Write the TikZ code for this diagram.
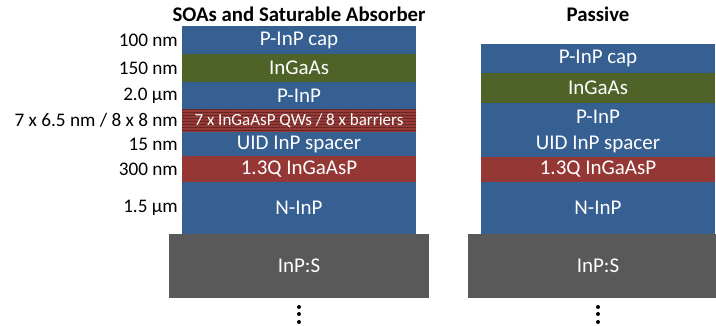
\documentclass[tikz,border=0pt]{standalone}
\usepackage{fontspec}
\setmainfont{Carlito}
\usetikzlibrary{positioning,patterns.meta}

\definecolor{inpblue}{RGB}{55,96,146}
\definecolor{ingaasgreen}{RGB}{79,98,40}
\definecolor{quatred}{RGB}{149,55,53}
\definecolor{qwred}{RGB}{150,58,56}
\definecolor{qwdark}{RGB}{100,36,34}
\definecolor{subgray}{RGB}{89,89,89}

\begin{document}
\begin{tikzpicture}[x=1pt, y=-1pt, node distance=0pt]

            \path [use as bounding box, clip] (0,0) rectangle (716,325);

            % Define block styles
            \tikzstyle{layer} = [rectangle, minimum width=234pt, inner sep=0pt, outer sep=0pt, text=white, font=\fontsize{21}{21}\selectfont]
            \tikzstyle{qw} = [layer, preaction={fill=qwred}, pattern={Lines[distance=3pt, angle=0, line width=1pt]}, pattern color=qwdark, font=\fontsize{17}{17}\selectfont]
            \tikzstyle{substrate} = [layer, fill=subgray, minimum width=260pt, minimum height=64pt]
            \tikzstyle{thickness} = [inner sep=0pt, font=\fontsize{19.2}{19.2}\selectfont]
            \tikzstyle{title} = [inner sep=0pt, font=\bfseries\fontsize{20.8}{20.8}\selectfont]

            % Nodes: SOA / absorber stack
            \node [layer, fill=inpblue, minimum height=28pt, anchor=north west] (capA) at (182,26) {P-InP cap};
            \node [layer, fill=ingaasgreen, minimum height=28pt, below=of capA] (ingaasA) {InGaAs};
            \node [layer, fill=inpblue, minimum height=27pt, below=of ingaasA] (pinpA) {P-InP};
            \node [qw, minimum height=23pt, below=of pinpA] (qwA) {7 x InGaAsP QWs / 8 x barriers};
            \node [layer, fill=inpblue, minimum height=24pt, below=of qwA] (spacerA) {UID InP spacer};
            \node [layer, fill=quatred, minimum height=26pt, below=of spacerA] (quatA) {1.3Q InGaAsP};
            \node [layer, fill=inpblue, minimum height=52pt, below=of quatA] (ninpA) {N-InP};
            \node [substrate, below=of ninpA] (subA) {InP:S};

            % Nodes: passive stack
            \node [layer, fill=inpblue, minimum height=29pt, anchor=north west] (capB) at (481,44) {P-InP cap};
            \node [layer, fill=ingaasgreen, minimum height=30pt, below=of capB] (ingaasB) {InGaAs};
            \node [layer, fill=inpblue, minimum height=28pt, below=of ingaasB] (pinpB) {P-InP};
            \node [layer, fill=inpblue, minimum height=26pt, below=of pinpB] (spacerB) {UID InP spacer};
            \node [layer, fill=quatred, minimum height=25pt, below=of spacerB] (quatB) {1.3Q InGaAsP};
            \node [layer, fill=inpblue, minimum height=52pt, below=of quatB] (ninpB) {N-InP};
            \node [substrate, below=of ninpB] (subB) {InP:S};

            % Titles
            \node [title] (titleA) at (299,14) {SOAs and Saturable Absorber};
            \node [title] (titleB) at (598,14) {Passive};

            % Thicknesses
            \node [thickness, left=4pt of capA] (tcap) {100 nm};
            \node [thickness, left=4pt of ingaasA] (tingaas) {150 nm};
            \node [thickness, left=4pt of pinpA] (tpinp) {2.0 µm};
            \node [thickness, left=4pt of qwA] (tqw) {7 x 6.5 nm / 8 x 8 nm};
            \node [thickness, left=4pt of spacerA] (tspacer) {15 nm};
            \node [thickness, left=4pt of quatA] (tquat) {300 nm};
            \node [thickness, left=4pt of ninpA] (tninp) {1.5 µm};

            % Dots below the substrates
            \foreach \s in {subA,subB}
                \foreach \d in {9,16,24}
                    \fill (\s.south) ++(0,\d) circle (2pt);

        \end{tikzpicture}
\end{document}
